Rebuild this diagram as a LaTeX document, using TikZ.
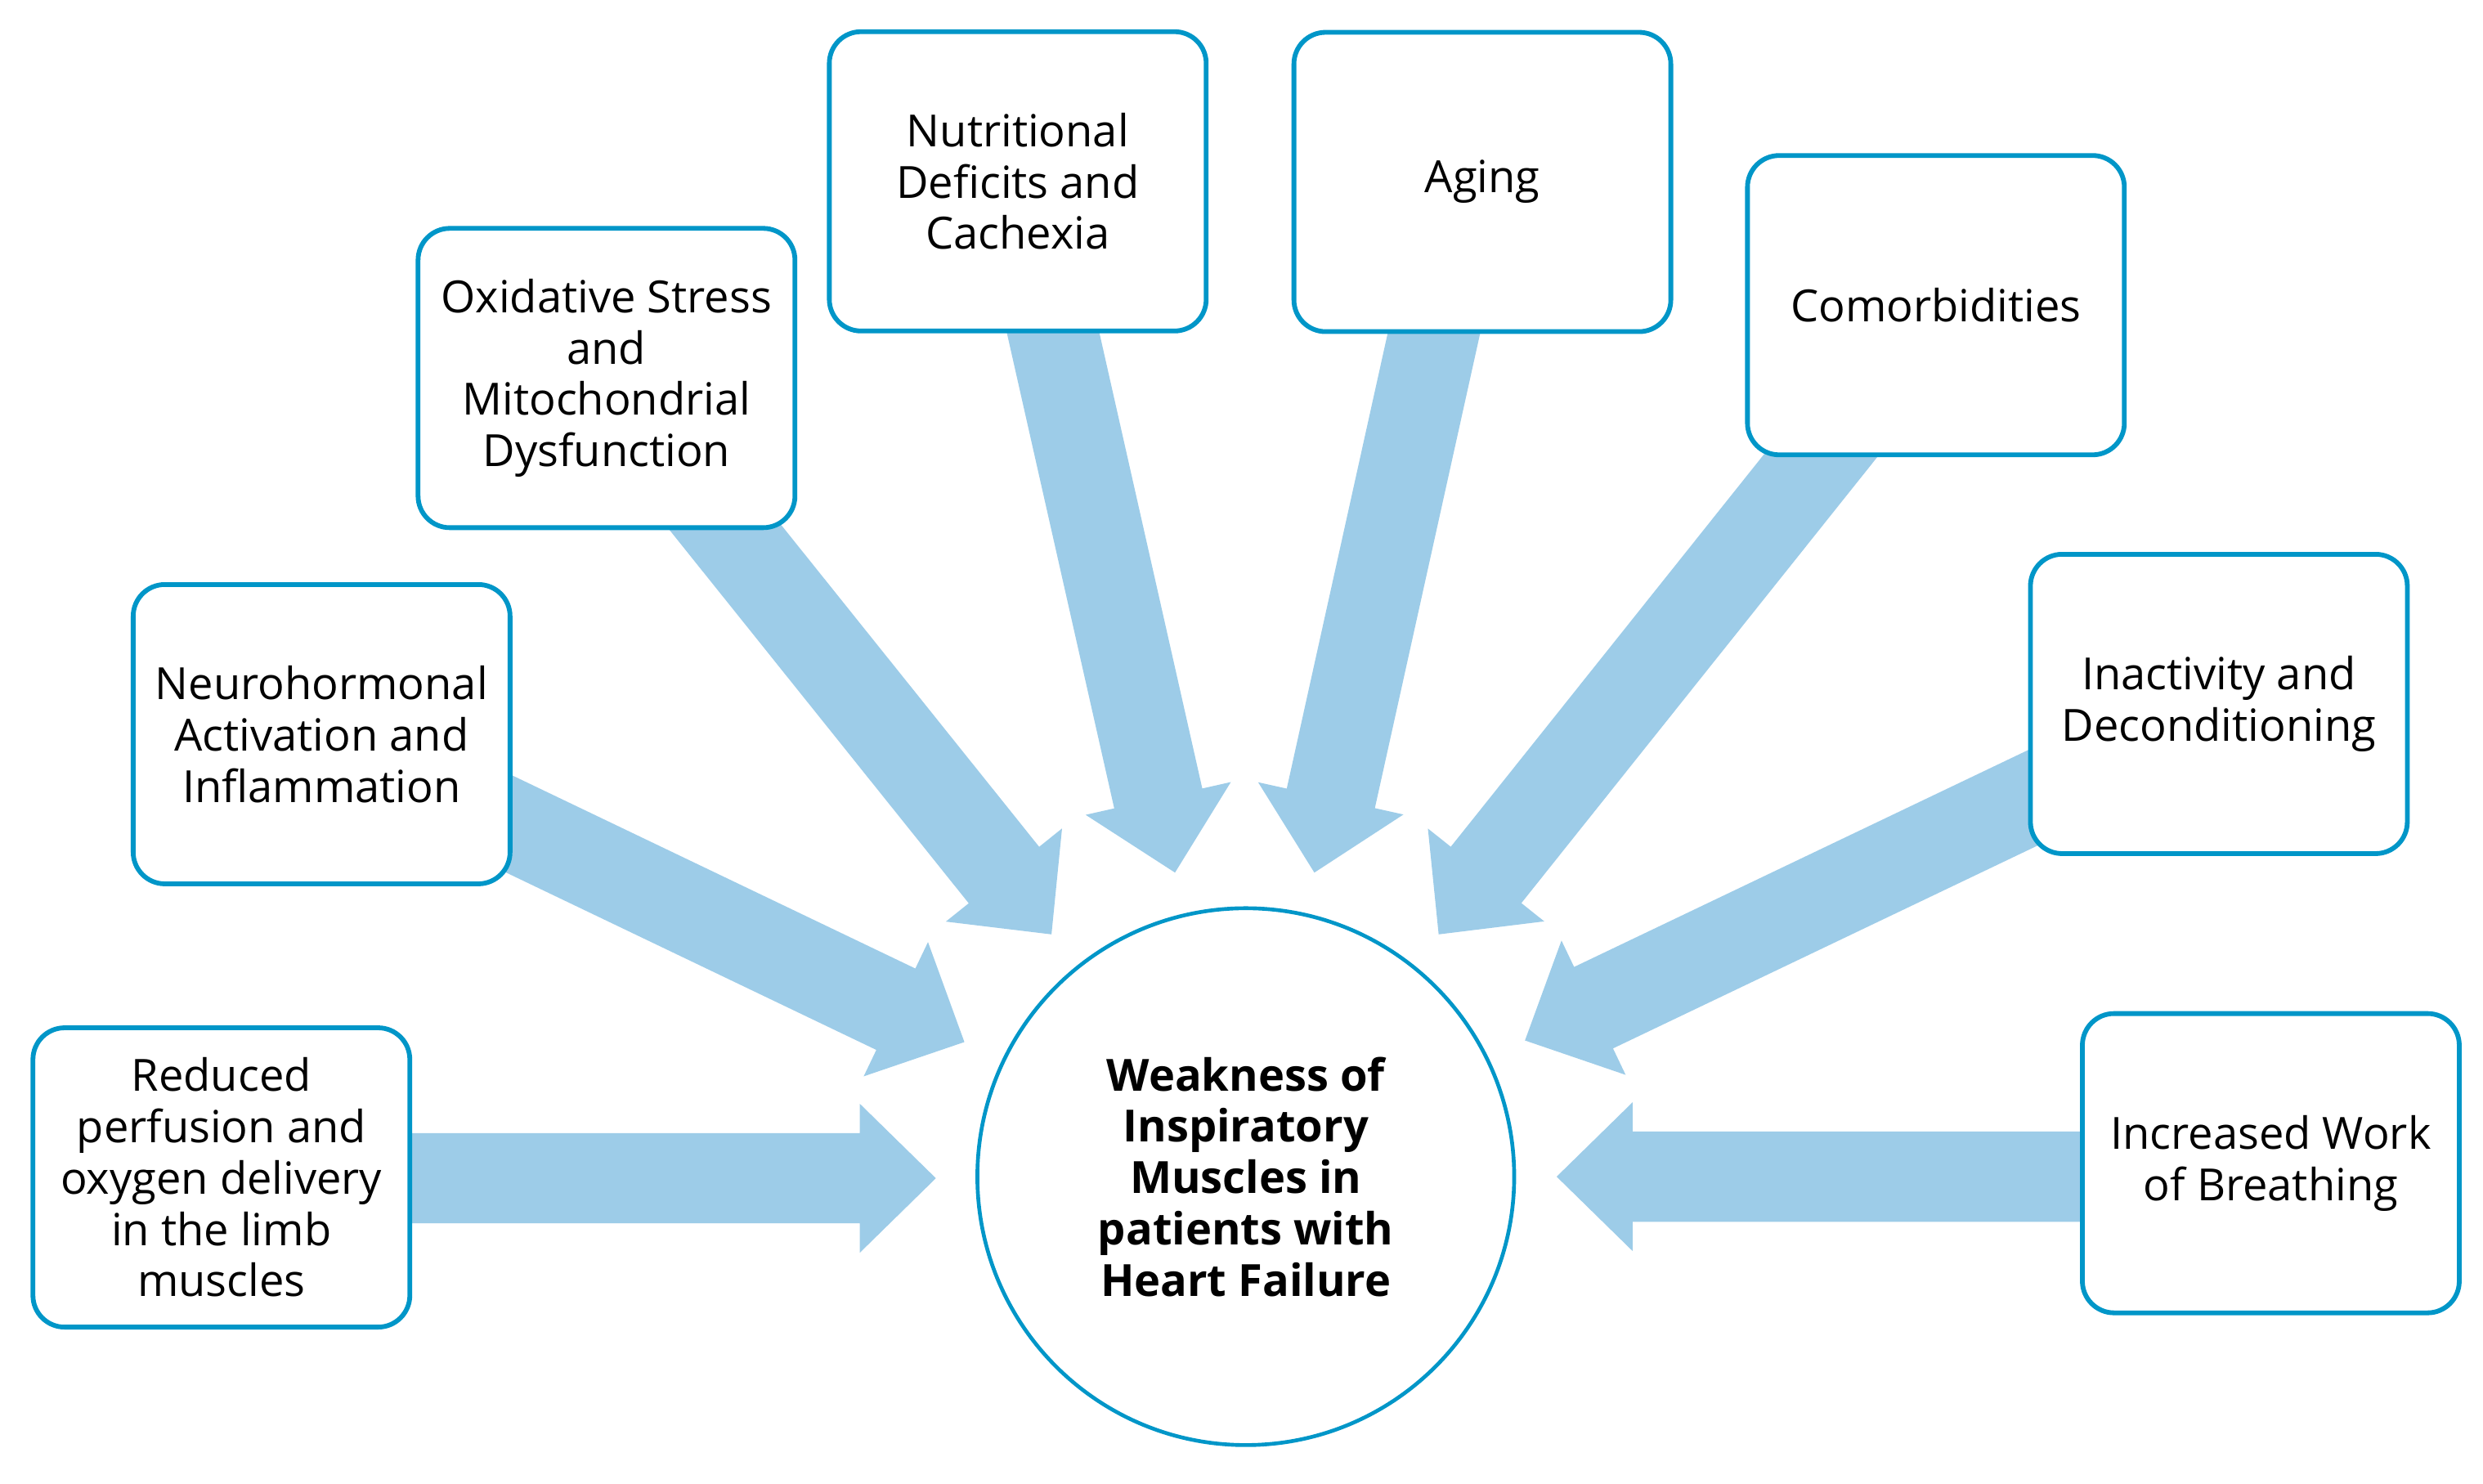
\documentclass[tikz,border=0pt]{standalone}
\usepackage{fontspec}
\setmainfont{Open Sans}
\usetikzlibrary{calc,backgrounds}
\definecolor{boxblue}{HTML}{0096C8}
\definecolor{arrowblue}{HTML}{9DCCE8}
\newcommand\blockarrow[2]{%
  \coordinate (#1x) at ($(#1)!-20pt!(#2)$);
  \coordinate (#1h) at ($(#2)!24pt!(#1)$);
  \fill[arrowblue]
    ($(#1x)!14.25pt!90:(#2)$) -- ($(#1h)!14.25pt!-90:(#1)$) --
    ($(#1h)!23.5pt!-90:(#1)$) -- (#2) -- ($(#1h)!23.5pt!90:(#1)$) --
    ($(#1h)!14.25pt!90:(#1)$) -- ($(#1x)!14.25pt!-90:(#2)$) -- cycle;}
\begin{document}
\begin{tikzpicture}[x=0.5pt,y=-0.5pt,
  factor/.style={draw=boxblue, line width=1.5pt, rounded corners=10pt, fill=white,
    minimum width=119pt, minimum height=94.5pt, inner sep=0pt, align=center,
    font=\fontsize{14}{16.2}\selectfont},
  core/.style={circle, draw=boxblue, line width=1.2pt, fill=white,
    minimum size=169.5pt, inner sep=0pt, align=center,
    font=\fontsize{14}{16.2}\selectfont\bfseries}]
\useasboundingbox (0,0) rectangle (1568,937.06);

\node[core] (center) at (786.7,743) {Weakness of\\Inspiratory\\Muscles in\\patients with\\Heart Failure};

\node[factor] (reduced) at (139.8,743.5) {Reduced\\perfusion and\\oxygen delivery\\in the limb\\muscles};
\node[factor] (neuro) at (203.1,463.6) {Neurohormonal\\Activation and\\Inflammation};
\node[factor] (oxid) at (383,238.7) {Oxidative Stress\\and\\Mitochondrial\\Dysfunction};
\node[factor] (nutri) at (642.7,114.5) {Nutritional\\Deficits and\\Cachexia};
\node[factor] (aging) at (936.1,114.9) {Aging};
\node[factor] (comor) at (1222.5,192.7) {Comorbidities};
\node[factor] (inact) at (1401.2,444.5) {Inactivity and\\Deconditioning};
\node[factor] (work) at (1434,734.5) {Increased Work\\of Breathing};

\coordinate (sR) at (259,744);    \coordinate (tR) at (591,744);
\coordinate (sN) at (323,521);    \coordinate (tN) at (609,658);
\coordinate (sO) at (458,333);    \coordinate (tO) at (664,590);
\coordinate (sU) at (665,210);    \coordinate (tU) at (742,551);
\coordinate (sA) at (905.6,210);  \coordinate (tA) at (830,551);
\coordinate (sC) at (1149.5,288); \coordinate (tC) at (908.5,590);
\coordinate (sI) at (1282,504.6); \coordinate (tI) at (963,657);
\coordinate (sW) at (1315,743);   \coordinate (tW) at (983,743);

\begin{scope}[on background layer]
\fill[white] (0,0) rectangle (1568,937.06);
\blockarrow{sR}{tR}
\blockarrow{sN}{tN}
\blockarrow{sO}{tO}
\blockarrow{sU}{tU}
\blockarrow{sA}{tA}
\blockarrow{sC}{tC}
\blockarrow{sI}{tI}
\blockarrow{sW}{tW}
\end{scope}
\end{tikzpicture}
\end{document}
